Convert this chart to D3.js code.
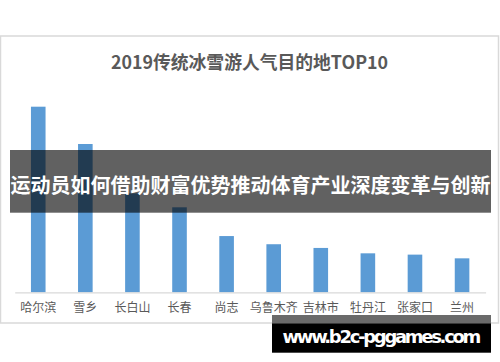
<!DOCTYPE html>
<html>
<head>
<meta charset="utf-8">
<script src="https://cdn.jsdelivr.net/npm/d3@7"></script>
<style>
    body { margin: 0; background: #fff; }
    #chart { width: 500px; height: 362px; }
    text { font-family: "Noto Sans CJK SC", "Noto Sans", sans-serif; }
</style>
</head>
<body>
<div id="chart"></div>
<script>

// popularity index, top destination = 100
var categories = ["哈尔滨", "雪乡", "长白山", "长春", "尚志", "乌鲁木齐", "吉林市", "牡丹江", "张家口", "兰州"];
var values = [100, 79.9, 53.3, 45.8, 30.3, 25.9, 23.9, 21.0, 20.3, 18.3];
var title = "2019传统冰雪游人气目的地TOP10";
var bannerText = "运动员如何借助财富优势推动体育产业深度变革与创新";
var siteText = "www.b2c-pggames.com";

/**
 * Constructor for the top 10 bar chart
 */
function TopChart(){
    var self = this;
    self.init();
};

/**
 * Creates the svg and the frame around the chart
 */
TopChart.prototype.init = function(){
    var self = this;
    self.svgWidth = 500;
    self.svgHeight = 362;
    self.frame = {top: 36, bottom: 323, left: 0.5, right: 498.5};

    self.svg = d3.select("#chart").append("svg")
        .attr("width", self.svgWidth)
        .attr("height", self.svgHeight);

    self.svg.append("rect")
        .attr("x", self.frame.left)
        .attr("y", self.frame.top)
        .attr("width", self.frame.right - self.frame.left)
        .attr("height", self.frame.bottom - self.frame.top)
        .attr("fill", "#fff")
        .attr("stroke", "#d9d9d9")
        .attr("stroke-width", 1.5);
};

/**
 * Draws title, bars and the category axis
 */
TopChart.prototype.update = function(){
    var self = this;
    var svg = self.svg;

    var x = d3.scaleBand()
        .domain(categories)
        .range([14.7, 485.6])
        .paddingInner(0.69)
        .paddingOuter(0.345);

    var y = d3.scaleLinear()
        .domain([0, 100])
        .range([292.3, 106.7]);

    svg.append("text")
        .attr("x", 249.5)
        .attr("y", 69)
        .attr("text-anchor", "middle")
        .attr("font-size", 18)
        .attr("font-weight", "bold")
        .attr("fill", "#595959")
        .attr("textLength", 277)
        .attr("lengthAdjust", "spacingAndGlyphs")
        .text(title);

    svg.selectAll("rect.bar").data(values)
        .enter().append("rect")
        .attr("class", "bar")
        .attr("x", function (d, i){ return x(categories[i]); })
        .attr("y", function (d){ return y(d); })
        .attr("width", x.bandwidth())
        .attr("height", function (d){ return y(0) - y(d); })
        .attr("fill", "#5b9bd5");

    var axis = svg.append("g")
        .attr("transform", "translate(0," + y(0) + ")")
        .call(d3.axisBottom(x).tickSize(0).tickSizeOuter(0).tickPadding(11));

    axis.select(".domain").attr("stroke", "#d9d9d9").attr("stroke-width", 1.2);
    axis.selectAll("text")
        .attr("font-size", 12)
        .attr("fill", "#595959")
        .style("font-family", "'Noto Sans CJK SC', sans-serif");

    //dark banner laid over the middle of the chart
    svg.append("rect")
        .attr("x", 10)
        .attr("y", 150)
        .attr("width", 481)
        .attr("height", 62.7)
        .attr("fill", "#000")
        .attr("opacity", 0.62);

    svg.append("text")
        .attr("x", 250.5)
        .attr("y", 193)
        .attr("text-anchor", "middle")
        .attr("font-size", 20)
        .attr("font-weight", "bold")
        .attr("fill", "#fff")
        .attr("textLength", 480)
        .attr("lengthAdjust", "spacingAndGlyphs")
        .text(bannerText);

    //site stamp in the bottom right
    svg.append("rect")
        .attr("x", 272)
        .attr("y", 315)
        .attr("width", 219)
        .attr("height", 8.3)
        .attr("fill", "#6a6a6a");

    svg.append("rect")
        .attr("x", 272)
        .attr("y", 323.3)
        .attr("width", 219)
        .attr("height", 29.4)
        .attr("fill", "#000");

    svg.append("text")
        .attr("x", 282.5)
        .attr("y", 343)
        .attr("font-size", 18)
        .attr("font-weight", "bold")
        .attr("fill", "#fff")
        .attr("letter-spacing", -2.3)
        .style("font-family", "'DejaVu Sans', sans-serif")
        .text(siteText);
};

var chart = new TopChart();
chart.update();

</script>
</body>
</html>
